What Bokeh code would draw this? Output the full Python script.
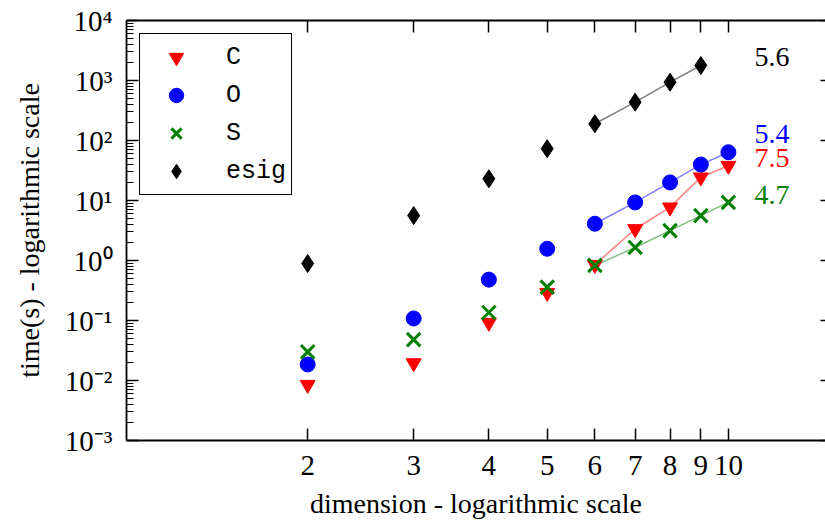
from bokeh.plotting import figure
from bokeh.models import Range1d, LogAxis, FixedTicker, Legend, LegendItem, Label
from bokeh.embed import file_html
from bokeh.resources import INLINE

# ---- data ----
dims = [2, 3, 4, 5, 6, 7, 8, 9, 10]
time_C = [0.0085, 0.0195, 0.092, 0.29, 0.85, 3.35, 7.7, 24.4, 38.0]
time_O = [0.0185, 0.108, 0.48, 1.57, 4.1, 9.3, 20.0, 39.7, 63.7]
time_S = [0.030, 0.048, 0.136, 0.36, 0.83, 1.65, 3.15, 5.6, 9.3]
dims_esig = [2, 3, 4, 5, 6, 7, 8, 9]
time_esig = [0.89, 5.6, 23.0, 73.0, 190.0, 435.0, 937.0, 1780.0]
slope_labels = ["5.6", "5.4", "7.5", "4.7"]
fit_from = 6

x_ticks = [2, 3, 4, 5, 6, 7, 8, 9, 10]
x_tick_labels = ["2", "3", "4", "5", "6", "7", "8", "9", "10"]
y_ticks = [1e-3, 1e-2, 1e-1, 1e0, 1e1, 1e2, 1e3, 1e4]
y_tick_labels = ["10\u207b\u00b3", "10\u207b\u00b2", "10\u207b\u00b9", "10\u2070",
                 "10\u00b9", "10\u00b2", "10\u00b3", "10\u2074"]

SERIF = "Liberation Serif"
MONO = "Liberation Mono"

p = figure(width=825, height=522, x_axis_type="log", y_axis_type="log",
           x_range=Range1d(1.0, 14.5), y_range=Range1d(1e-3, 1e4),
           output_backend="svg", toolbar_location=None,
           min_border_left=126, min_border_right=0, min_border_top=20, min_border_bottom=82)
p.xgrid.visible = False
p.ygrid.visible = False
p.outline_line_color = None
p.background_fill_color = "white"

minor_y = [m * 10.0 ** e for e in range(-3, 4) for m in range(2, 10)]

def style_axis(ax, ticks, labels, minor=None, show_labels=True, line=True):
    ax.ticker = FixedTicker(ticks=ticks, minor_ticks=minor or [])
    ax.major_label_overrides = {t: l for t, l in zip(ticks, labels)}
    ax.major_tick_in = 12
    ax.major_tick_out = 0
    ax.minor_tick_in = 7 if minor else 0
    ax.minor_tick_out = 0
    ax.major_tick_line_width = 1.5
    ax.minor_tick_line_width = 1.2
    ax.major_tick_line_color = "black"
    ax.minor_tick_line_color = "black"
    ax.axis_line_width = 1.8
    ax.axis_line_color = "black" if line else None
    ax.major_label_text_font = SERIF
    ax.major_label_text_color = "black"
    ax.major_label_text_font_size = "29px"
    if not show_labels:
        ax.major_label_text_font_size = "2px"
        ax.major_label_text_alpha = 0.0
        ax.major_label_standoff = 0
    ax.axis_label_text_font = SERIF
    ax.axis_label_text_font_style = "normal"
    ax.axis_label_text_font_size = "28px"
    ax.axis_label_text_color = "black"

xb = p.xaxis[0]
style_axis(xb, x_ticks, x_tick_labels)
xb.axis_label = "dimension - logarithmic scale"
xb.major_label_standoff = 15
xb.axis_label_standoff = 10

yl = p.yaxis[0]
style_axis(yl, y_ticks, y_tick_labels, minor=minor_y)
yl.axis_label = "time(s) - logarithmic scale"
yl.major_label_standoff = 14
yl.axis_label_standoff = 17

xa = LogAxis()
style_axis(xa, x_ticks, x_tick_labels, show_labels=False)
p.add_layout(xa, "above")

yr = LogAxis()
style_axis(yr, y_ticks, y_tick_labels, show_labels=False, line=False)
yr.major_tick_in = 5
p.add_layout(yr, "right")

# ---- connecting lines for the larger dimensions ----
def tail(xs, ys):
    pts = [(x, y) for x, y in zip(xs, ys) if x >= fit_from]
    return [a for a, _ in pts], [b for _, b in pts]

for xs, ys, col in [(dims_esig, time_esig, "black"), (dims, time_O, "blue"),
                    (dims, time_C, "red"), (dims, time_S, "green")]:
    tx, ty = tail(xs, ys)
    p.line(tx, ty, line_color=col, line_alpha=0.5, line_width=1.5)

rC = p.scatter(dims, time_C, marker="inverted_triangle", size=15,
               fill_color="red", line_color="red")
rO = p.scatter(dims, time_O, marker="circle", size=15,
               fill_color="blue", line_color="blue")
rS = p.scatter(dims, time_S, marker="x", size=19, line_color="green", line_width=3)
rE = p.scatter(dims_esig, time_esig, marker="diamond", size=18,
               fill_color="black", line_color="black")

legend = Legend(items=[LegendItem(label="C", renderers=[rC]),
                       LegendItem(label="O", renderers=[rO]),
                       LegendItem(label="S", renderers=[rS]),
                       LegendItem(label="esig", renderers=[rE])],
                location="top_left", margin=13, padding=5, spacing=2,
                glyph_width=62, glyph_height=36, label_height=30, label_width=59,
                label_standoff=19,
                label_text_font=MONO, label_text_font_size="25px",
                label_text_color="black", label_text_baseline="middle",
                border_line_color="black", border_line_width=1.5, border_line_alpha=1.0,
                background_fill_color="white", background_fill_alpha=1.0)
p.add_layout(legend)

# ---- slope annotations ----
label_x = 11.05
label_y = [2450, 127, 51, 12.3]
label_colors = ["black", "blue", "red", "green"]
for txt, yy, col in zip(slope_labels, label_y, label_colors):
    p.add_layout(Label(x=label_x, y=yy, text=txt, text_font=SERIF, text_font_size="28px",
                       text_color=col, text_baseline="middle", text_align="left"))

open("out.html", "w").write(file_html(p, INLINE))
